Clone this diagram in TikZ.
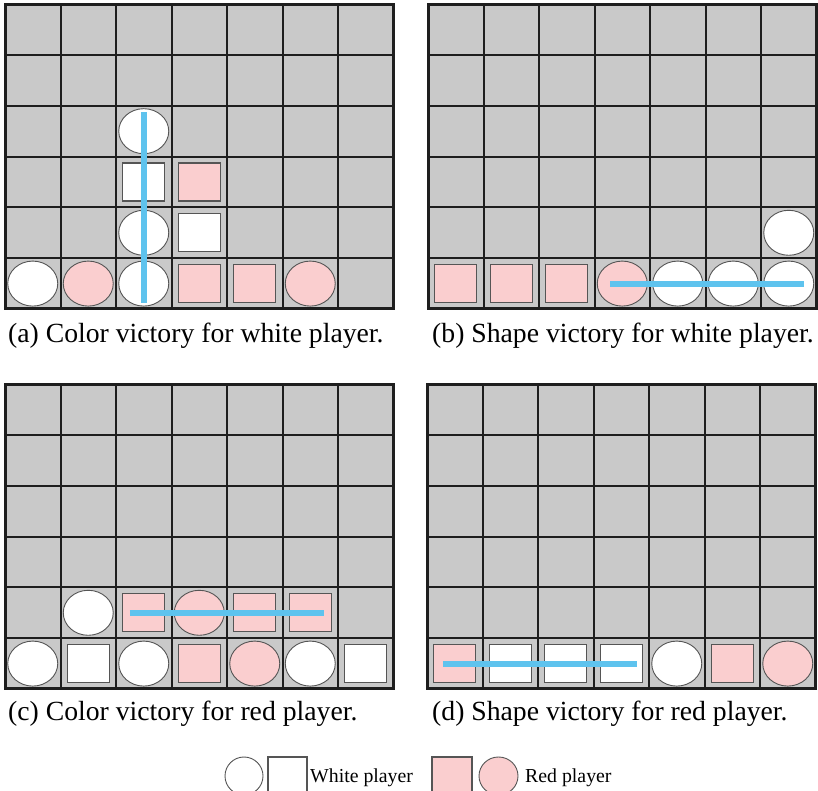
\documentclass[tikz,border=0pt]{standalone}
\usepackage{fontspec}
\setmainfont{Liberation Serif}
\usetikzlibrary{shapes.geometric}
\definecolor{CGray}{HTML}{C9C9C9}
\definecolor{CLine}{HTML}{1E1E1E}
\definecolor{CPink}{HTML}{FACECF}
\definecolor{CEdge}{HTML}{555555}
\definecolor{CBlue}{HTML}{5EC3EE}
\newcommand{\cellw}{55.5}
\newcommand{\cellh}{50.8}

\begin{document}
\begin{tikzpicture}[
  x=1pt,y=1pt,
  cell/.style={fill=CGray,draw=CLine,line width=2pt},
  frame/.style={draw=CLine,line width=3pt},
  wcirc/.style={ellipse,draw=CEdge,fill=white,line width=0.9pt,
    minimum width=50pt,minimum height=45pt,inner sep=0pt},
  rcirc/.style={wcirc,fill=CPink},
  wsq/.style={rectangle,draw=CEdge,fill=white,line width=1.1pt,
    minimum width=42pt,minimum height=38pt,inner sep=0pt},
  rsq/.style={wsq,fill=CPink},
  win/.style={draw=CBlue,line width=6pt},
  subcap/.style={font=\fontsize{27.7}{30}\selectfont,anchor=base west,inner sep=0pt},
  key/.style={font=\fontsize{19.8}{22}\selectfont,anchor=base west,inner sep=0pt}
]
\useasboundingbox (0,0) rectangle (818,791);

% (a) color victory, white
\begin{scope}[shift={(5,482)}]
  \foreach \i in {0,...,6}
    \foreach \j in {0,...,5}
      {\draw[cell] (\i*\cellw,\j*\cellh) rectangle ++(\cellw,\cellh);}
  \draw[frame] (0,0) rectangle (7*\cellw,6*\cellh);
  \foreach \c/\r in {0/0,2/0,2/1,2/3}
    {\node[wcirc] (a-\c-\r) at ({(\c+0.5)*\cellw},{(\r+0.5)*\cellh}) {};}
  \foreach \c/\r in {1/0,5/0}
    {\node[rcirc] (a-\c-\r) at ({(\c+0.5)*\cellw},{(\r+0.5)*\cellh}) {};}
  \foreach \c/\r in {3/1,2/2}
    {\node[wsq] (a-\c-\r) at ({(\c+0.5)*\cellw},{(\r+0.5)*\cellh}) {};}
  \foreach \c/\r in {3/0,4/0,3/2}
    {\node[rsq] (a-\c-\r) at ({(\c+0.5)*\cellw},{(\r+0.5)*\cellh}) {};}
  \draw[win] ([yshift=19pt]a-2-3.center) -- ([yshift=-19pt]a-2-0.center);
\end{scope}

% (b) shape victory, white
\begin{scope}[shift={(428,482)}]
  \foreach \i in {0,...,6}
    \foreach \j in {0,...,5}
      {\draw[cell] (\i*\cellw,\j*\cellh) rectangle ++(\cellw,\cellh);}
  \draw[frame] (0,0) rectangle (7*\cellw,6*\cellh);
  \foreach \c/\r in {4/0,5/0,6/0,6/1}
    {\node[wcirc] (b-\c-\r) at ({(\c+0.5)*\cellw},{(\r+0.5)*\cellh}) {};}
  \node[rcirc] (b-3-0) at ({3.5*\cellw},{0.5*\cellh}) {};
  \foreach \c/\r in {0/0,1/0,2/0}
    {\node[rsq] (b-\c-\r) at ({(\c+0.5)*\cellw},{(\r+0.5)*\cellh}) {};}
  \draw[win] ([xshift=-12pt]b-3-0.center) -- ([xshift=15pt]b-6-0.center);
\end{scope}

% (c) color victory, red
\begin{scope}[shift={(5,102)}]
  \foreach \i in {0,...,6}
    \foreach \j in {0,...,5}
      {\draw[cell] (\i*\cellw,\j*\cellh) rectangle ++(\cellw,\cellh);}
  \draw[frame] (0,0) rectangle (7*\cellw,6*\cellh);
  \foreach \c/\r in {0/0,2/0,5/0,1/1}
    {\node[wcirc] (c-\c-\r) at ({(\c+0.5)*\cellw},{(\r+0.5)*\cellh}) {};}
  \foreach \c/\r in {4/0,3/1}
    {\node[rcirc] (c-\c-\r) at ({(\c+0.5)*\cellw},{(\r+0.5)*\cellh}) {};}
  \foreach \c/\r in {1/0,6/0}
    {\node[wsq] (c-\c-\r) at ({(\c+0.5)*\cellw},{(\r+0.5)*\cellh}) {};}
  \foreach \c/\r in {3/0,2/1,4/1,5/1}
    {\node[rsq] (c-\c-\r) at ({(\c+0.5)*\cellw},{(\r+0.5)*\cellh}) {};}
  \draw[win] ([xshift=-14pt]c-2-1.center) -- ([xshift=14pt]c-5-1.center);
\end{scope}

% (d) shape victory, red
\begin{scope}[shift={(427,102)}]
  \foreach \i in {0,...,6}
    \foreach \j in {0,...,5}
      {\draw[cell] (\i*\cellw,\j*\cellh) rectangle ++(\cellw,\cellh);}
  \draw[frame] (0,0) rectangle (7*\cellw,6*\cellh);
  \node[wcirc] (d-4-0) at ({4.5*\cellw},{0.5*\cellh}) {};
  \node[rcirc] (d-6-0) at ({6.5*\cellw},{0.5*\cellh}) {};
  \foreach \c/\r in {1/0,2/0,3/0}
    {\node[wsq] (d-\c-\r) at ({(\c+0.5)*\cellw},{(\r+0.5)*\cellh}) {};}
  \foreach \c/\r in {0/0,5/0}
    {\node[rsq] (d-\c-\r) at ({(\c+0.5)*\cellw},{(\r+0.5)*\cellh}) {};}
  \draw[win] ([xshift=-12pt]d-0-0.center) -- ([xshift=16pt]d-3-0.center);
\end{scope}

% captions
\node[subcap] (capa) at (8,448) {(a) Color victory for white player.};
\node[subcap] (capb) at (432,448) {(b) Shape victory for white player.};
\node[subcap] (capc) at (8,70) {(c) Color victory for red player.};
\node[subcap] (capd) at (432,70) {(d) Shape victory for red player.};

% legend
\node[wcirc,minimum width=38pt,minimum height=38pt] (kwc) at (244,15) {};
\node[wsq,minimum width=39pt,minimum height=39pt] (kws) at (287.5,14.5) {};
\node[key] (kwt) at (310,8) {White player};
\node[rsq,minimum width=40pt,minimum height=39pt] (krs) at (452,14.5) {};
\node[rcirc,minimum width=39pt,minimum height=38pt] (krc) at (498.5,15) {};
\node[key] (krt) at (525,8) {Red player};
\end{tikzpicture}
\end{document}
